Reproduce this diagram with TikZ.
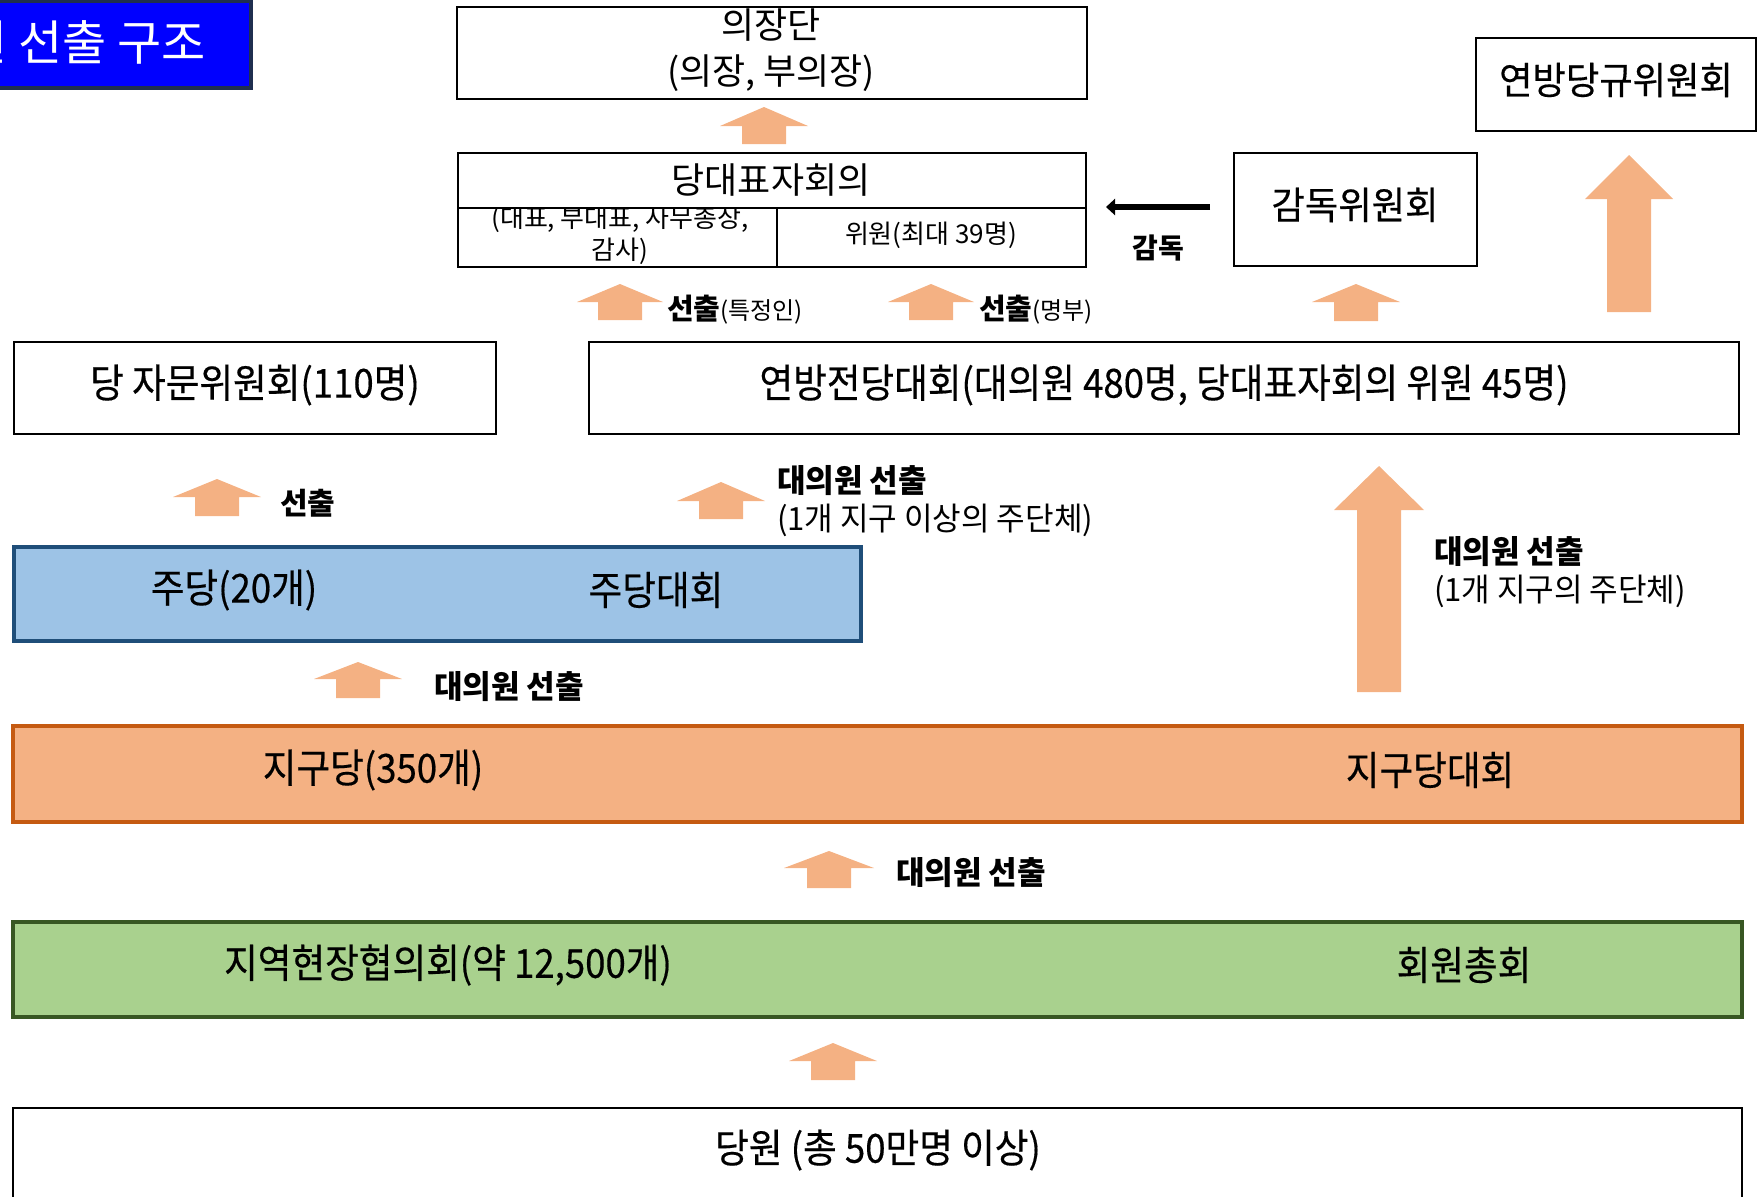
\documentclass[tikz,border=0pt]{standalone}
\usepackage{fontspec}
\usetikzlibrary{arrows.meta}
\newfontfamily\kr{Noto Sans CJK KR}
\newfontfamily\kn{Noto Sans CJK KR}[FakeStretch=0.97]
\newfontfamily\kc{Noto Sans CJK KR}[FakeStretch=0.915,FakeBold=0.4]
\newfontfamily\km{Noto Sans CJK KR}[FakeStretch=0.955,FakeBold=0.4]
\definecolor{arrowc}{HTML}{F4B183}
\definecolor{bluef}{HTML}{9DC3E6}
\definecolor{blued}{HTML}{1F4E79}
\definecolor{orangef}{HTML}{F4B183}
\definecolor{oranged}{HTML}{C55A11}
\definecolor{greenf}{HTML}{A9D18E}
\definecolor{greend}{HTML}{385723}
\definecolor{titlef}{HTML}{0000FF}
\definecolor{titled}{HTML}{1F2F4F}
\newcommand\blkup[6]{%
  \fill[arrowc] (#1,#2) -- (#1+#4,#2+#6) -- (#1+#5,#2+#6) -- (#1+#5,#3)
    -- (#1-#5,#3) -- (#1-#5,#2+#6) -- (#1-#4,#2+#6) -- cycle;}
\tikzset{
  box/.style={draw=black, line width=1.4pt, fill=white, inner sep=0pt, outer sep=0pt},
  cbox/.style={line width=2.4pt, inner sep=0pt, outer sep=0pt},
  lbl/.style={inner sep=0pt, outer sep=0pt, text=black},
  big/.style={lbl, font=\kc\fontsize{20}{24}\selectfont},
  mid/.style={lbl, font=\km\fontsize{19}{23}\selectfont},
  note/.style={lbl, align=left, font=\kn\fontsize{16}{19}\selectfont},
  small/.style={lbl, align=center, font=\kr\fontsize{13}{16}\selectfont},
}
\begin{document}
\begin{tikzpicture}[x=0.5pt,y=-0.5pt]
\useasboundingbox (0,0) rectangle (1762,1196);
\clip (0,0) rectangle (1762,1196);

% title
\node[cbox, draw=titled, fill=titlef, line width=1.6pt, minimum width=225.5pt, minimum height=43.5pt] (title) at (25.5,44.5) {};
\node[lbl, anchor=east, text=white, font=\kr\fontsize{24}{28}\selectfont] (titlet) at (206,42) {대의원 선출 구조};

% top boxes
\node[box, minimum width=315pt, minimum height=46pt] (uijang) at (772,53) {};
\node[lbl, align=center, font=\kr\fontsize{18}{23}\selectfont] (uijangt) at (771,50) {의장단\\(의장, 부의장)};

\node[box, minimum width=159.5pt, minimum height=29.5pt] (cellL) at (617.5,237.5) {};
\node[small] (cellLt) at (620,235) {(대표, 부대표, 사무총장,\\감사)};
\node[box, minimum width=154.5pt, minimum height=29.5pt] (cellR) at (931.5,237.5) {};
\node[small] (cellRt) at (931,235) {위원(최대 39명)};
\node[box, minimum width=314pt, minimum height=27.5pt] (daepyo) at (772,180.5) {};
\node[lbl, font=\kr\fontsize{18}{22}\selectfont] (daepyot) at (771,180) {당대표자회의};

\node[box, minimum width=121.5pt, minimum height=56.5pt] (gamdok) at (1355.5,209.5) {};
\node[mid] (gamdokt) at (1355,205) {감독위원회};
\node[box, minimum width=140pt, minimum height=46.5pt] (dangkyu) at (1616,84.5) {};
\node[mid] (dangkyut) at (1616,80) {연방당규위원회};

\coordinate (ga) at (1210,207);
\coordinate (gb) at (1106,207);
\draw[line width=3.3pt, -{Triangle[length=4.5pt,width=8pt]}] (ga) -- (gb);
\node[lbl, font=\kr\bfseries\fontsize{14}{17}\selectfont] (gamdokl) at (1158,248) {감독};

% arrows row 1
\blkup{764}{107}{144}{44}{22}{19}
\blkup{620}{284}{320}{43}{22}{18}
\blkup{931}{284}{320}{43}{22}{18}
\blkup{1356}{284}{321}{44}{22}{18}
\blkup{1629}{155}{312}{44}{22}{44}

\node[lbl, anchor=west, font=\kr] (sel1) at (667,310) {{\bfseries\fontsize{14.5}{18}\selectfont 선출}{\fontsize{12}{15}\selectfont(특정인)}};
\node[lbl, anchor=west, font=\kr] (sel2) at (979,310) {{\bfseries\fontsize{14.5}{18}\selectfont 선출}{\fontsize{12}{15}\selectfont(명부)}};

% middle row
\node[box, minimum width=241pt, minimum height=46pt] (jamun) at (255,388) {};
\node[big] (jamunt) at (255,385) {당 자문위원회(110명)};
\node[box, minimum width=575pt, minimum height=46pt] (federal) at (1164,388) {};
\node[big] (federalt) at (1164,385) {연방전당대회(대의원 480명, 당대표자회의 위원 45명)};

\blkup{217}{479}{516}{44}{22}{18}
\blkup{721}{482}{519}{44}{22}{19}
\blkup{1379}{466}{692}{45}{22}{44}

\node[lbl, anchor=west, font=\kr\bfseries\fontsize{15}{18}\selectfont] (sel3) at (280,503) {선출};
\node[note, anchor=west] (sel4) at (777,501) {\textbf{대의원 선출}\\(1개 지구 이상의 주단체)};
\node[note, anchor=west] (sel5) at (1434,572) {\textbf{대의원 선출}\\(1개 지구의 주단체)};

% state party
\node[cbox, draw=blued, fill=bluef, minimum width=423.5pt, minimum height=47pt] (judang) at (437.5,594) {};
\node[big] (judangt1) at (234,590) {주당(20개)};
\node[big] (judangt2) at (656,590) {주당대회};

\blkup{358}{662}{698}{44}{22}{17}
\node[lbl, anchor=west, font=\kn\bfseries\fontsize{16}{19}\selectfont] (sel6) at (434,687) {대의원 선출};

% district
\node[cbox, draw=oranged, fill=orangef, minimum width=864.5pt, minimum height=48pt] (jigu) at (877.5,774) {};
\node[big] (jigut1) at (373,770) {지구당(350개)};
\node[big] (jigut2) at (1430,770) {지구당대회};

\blkup{829}{851}{888}{45}{22}{17}
\node[lbl, anchor=west, font=\kn\bfseries\fontsize{16}{19}\selectfont] (sel7) at (896,873) {대의원 선출};

% local
\node[cbox, draw=greend, fill=greenf, minimum width=864.5pt, minimum height=47.5pt] (local) at (877.5,969.5) {};
\node[big] (localt1) at (448,965) {지역현장협의회(약 12,500개)};
\node[big] (localt2) at (1464,965) {회원총회};

\blkup{833}{1043}{1080}{44}{22}{18}

% members
\node[box, minimum width=864.5pt, minimum height=61pt] (member) at (877.5,1169) {};
\node[big] (membert) at (878,1150) {당원 (총 50만명 이상)};
\end{tikzpicture}
\end{document}
